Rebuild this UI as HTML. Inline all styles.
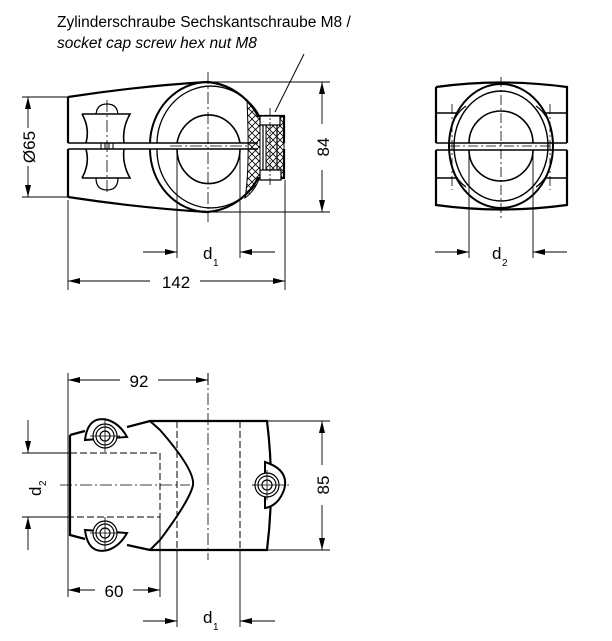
<!DOCTYPE html>
<html><head><meta charset="utf-8"><style>
html,body{margin:0;padding:0;background:#fff;}
svg{display:block;}
text{font-family:"Liberation Sans",Arial,sans-serif;fill:#000;}
</style></head><body>
<svg width="612" height="641" viewBox="0 0 612 641" xmlns="http://www.w3.org/2000/svg">
<defs>
<marker id="a" viewBox="0 0 12 6" refX="12" refY="3" markerWidth="12" markerHeight="6" orient="auto" markerUnits="userSpaceOnUse"><path d="M0,0 L12,3 L0,6 z" fill="#000"/></marker>
<pattern id="h" width="7" height="7" patternUnits="userSpaceOnUse"><path d="M0,0 L7,7 M7,0 L0,7" stroke="#000" stroke-width="0.8"/></pattern>
</defs>
<text x="57" y="27" font-size="15.5">Zylinderschraube Sechskantschraube M8 /</text>
<text x="57" y="48" font-size="15.5" font-style="italic">socket cap screw hex nut M8</text>
<path d="M304,54 L275,112" stroke="#000" stroke-width="1" fill="none"/>

<!-- ===== TOP LEFT VIEW ===== -->
<g fill="none" stroke="#000">
<path d="M247,100 Q258,110 260,118 L260,176 Q256,190 245,198 Q250,170 247,100 z" fill="url(#h)" stroke-width="1"/>
<path d="M266,116 L284,116 L284,178 L266,178 z" fill="url(#h)" stroke-width="1"/>
<path d="M68,97 Q140,86 207,82 A63,65 0 0 1 258,116 L284,116 L284,143" stroke-width="2.2"/>
<path d="M68,197 Q140,208 207,212 A63,65 0 0 0 258,178 L284,178 L284,149" stroke-width="2.2"/>
<path d="M68,97 L68,143 M68,149 L68,197" stroke-width="2.2"/>
<path d="M68,143 L258,143 M68,149 L258,149" stroke-width="1.5"/>
<path d="M150,143 A58,63 0 0 1 207,82 M150,149 A58,63 0 0 0 207,212" stroke-width="2"/>
<path d="M157,143 A54,58 0 0 1 250,104 M157,149 A54,58 0 0 0 250,190" stroke-width="1.3"/>
<path d="M177,143 A32,34 0 0 1 240,143 M177,149 A31,34 0 0 0 240,149" stroke-width="1.6"/>
<path d="M260,116 L280,116 L280,125 L260,125 z M263,125 L263,170 M277,125 L277,170 M260,170 L281,170 L281,180 L260,180 z" stroke-width="1.2" fill="#fff"/>
<path d="M270,108 L270,185" stroke-width="0.8" stroke-dasharray="8,2,2,2"/>
<!-- left slot bumps -->
<path d="M96,116 Q96,104 107,104 Q118,104 118,116 M96,178 Q96,190 107,190 Q118,190 118,178" stroke-width="1.2"/>
<!-- hourglass -->
<path d="M82,114 L130,114 Q122,128 124,143 M82,114 Q90,128 86,143" stroke-width="1.6" fill="#fff"/>
<path d="M82,178 L130,178 Q122,164 124,149 M82,178 Q90,164 86,149" stroke-width="1.6" fill="#fff"/>
<path d="M101,143 L113,143 L113,149 L101,149 z M105,143 L105,149 M109,143 L109,149" stroke-width="1"/>
<path d="M208,72 L208,222 M107,100 L107,192 M170,146 L250,146" stroke-width="0.8" stroke-dasharray="12,3,2,3"/>
<g stroke-width="0.9">
<path d="M207,82 L330,82 M207,212 L330,212 M22,97 L68,97 M22,197 L68,197"/>
<path d="M177,150 L177,258 M240,150 L240,258 M68,200 L68,290 M285,180 L285,290"/>
<path d="M28,128 L28,97" marker-end="url(#a)"/><path d="M28,166 L28,197" marker-end="url(#a)"/>
<path d="M322,124 L322,82" marker-end="url(#a)"/><path d="M322,170 L322,212" marker-end="url(#a)"/>
<path d="M143,252 L177,252" marker-end="url(#a)"/><path d="M275,252 L240,252" marker-end="url(#a)"/>
<path d="M150,281 L68,281" marker-end="url(#a)"/><path d="M200,281 L285,281" marker-end="url(#a)"/>
</g>
</g>
<text transform="translate(35,147) rotate(-90)" font-size="17" text-anchor="middle">Ø65</text>
<text transform="translate(329,147) rotate(-90)" font-size="17" text-anchor="middle">84</text>
<text x="203" y="259" font-size="17">d</text><text x="213" y="266" font-size="10">1</text>
<text x="176" y="288" font-size="17" text-anchor="middle">142</text>

<!-- ===== TOP RIGHT VIEW ===== -->
<g fill="none" stroke="#000">
<path d="M436,87 Q501,78 567,87 L567,143 M436,87 L436,143 M436,150 L436,205 Q501,214 567,205 L567,150" stroke-width="2.2"/>
<path d="M436,113 L458,113 M545,113 L567,113 M436,178 L458,178 M545,178 L567,178 M436,143 L567,143 M436,150 L567,150" stroke-width="1.5"/>
<path d="M449,146 A52,62 0 0 1 553,146 M449,146 A52,62 0 0 0 553,146" stroke-width="2"/>
<path d="M454,146 A47,55 0 0 1 548,146 M454,146 A47,55 0 0 0 548,146" stroke-width="1.4"/>
<path d="M469,143 A32,32 0 0 1 533,143 M469,150 A32,31 0 0 0 533,150" stroke-width="1.6"/>
<path d="M455,118 Q460,110 466,106 M547,118 Q542,110 536,106 M455,175 Q460,183 466,187 M547,175 Q542,183 536,187" stroke-width="1.2"/>
<path d="M501,77 L501,218 M450,146 L553,146 M452,104 L452,190 M550,104 L550,190" stroke-width="0.8" stroke-dasharray="10,3,2,3"/>
<g stroke-width="0.9">
<path d="M469,150 L469,258 M533,150 L533,258"/>
<path d="M435,252 L469,252" marker-end="url(#a)"/><path d="M567,252 L533,252" marker-end="url(#a)"/>
</g>
</g>
<text x="492" y="259" font-size="17">d</text><text x="502" y="266" font-size="10">2</text>

<!-- ===== BOTTOM VIEW ===== -->
<g fill="none" stroke="#000">
<path d="M70,435 L85,431 M127,427 L150,421 L267,421 Q275,485 267,550 L150,550 L127,545 M85,539 L70,535 L70,435" stroke-width="2.2"/>
<path d="M150,421 L160,430 Q195,470 193,485 Q190,500 160,540 L150,550" stroke-width="2"/>
<path d="M70,453 L160,453 L160,517 L70,517 M177,421 L177,550 M240,421 L240,550" stroke-width="1" stroke-dasharray="7,3"/>
<path d="M208,373 L208,560 M60,485 L190,485 M252,485 L290,485" stroke-width="0.8" stroke-dasharray="12,3,2,3"/>
<g stroke-width="1.2">
<path d="M85,440 Q88,415 108,420 Q120,424 127,437 Z" stroke-width="2" fill="#fff"/>
<circle cx="105" cy="436" r="12" fill="#fff"/><circle cx="105" cy="436" r="9"/><circle cx="105" cy="436" r="5"/>
<path d="M85,530 Q88,555 108,550 Q120,546 127,533 Z" stroke-width="2" fill="#fff"/>
<circle cx="105" cy="533" r="12" fill="#fff"/><circle cx="105" cy="533" r="9"/><circle cx="105" cy="533" r="5"/>
<path d="M265,462 Q290,470 284,490 Q278,506 265,508 Z" stroke-width="2" fill="#fff"/>
<circle cx="267" cy="485" r="12" fill="#fff"/><circle cx="267" cy="485" r="9"/><circle cx="267" cy="485" r="5"/>
<path d="M105,418 L105,452 M90,436 L120,436 M105,517 L105,550 M90,533 L120,533 M267,470 L267,500 M252,485 L284,485" stroke-width="0.8"/>
</g>
<g stroke-width="0.9">
<path d="M68,373 L68,597 M208,373 L208,385 M160,517 L160,597 M177,550 L177,627 M240,550 L240,627"/>
<path d="M22,453 L70,453 M22,517 L70,517 M267,421 L330,421 M267,550 L330,550"/>
<path d="M120,380 L68,380" marker-end="url(#a)"/><path d="M158,380 L208,380" marker-end="url(#a)"/>
<path d="M28,420 L28,453" marker-end="url(#a)"/><path d="M28,550 L28,517" marker-end="url(#a)"/>
<path d="M322,465 L322,421" marker-end="url(#a)"/><path d="M322,505 L322,550" marker-end="url(#a)"/>
<path d="M95,590 L68,590" marker-end="url(#a)"/><path d="M133,590 L160,590" marker-end="url(#a)"/>
<path d="M143,621 L177,621" marker-end="url(#a)"/><path d="M275,621 L240,621" marker-end="url(#a)"/>
</g>
</g>
<text x="139" y="387" font-size="17" text-anchor="middle">92</text>
<text transform="translate(41,496) rotate(-90)" font-size="17">d</text>
<text transform="translate(46,486) rotate(-90)" font-size="10">2</text>
<text transform="translate(329,485) rotate(-90)" font-size="17" text-anchor="middle">85</text>
<text x="114" y="597" font-size="17" text-anchor="middle">60</text>
<text x="203" y="623" font-size="17">d</text><text x="213" y="630" font-size="10">1</text>
</svg>
</body></html>
